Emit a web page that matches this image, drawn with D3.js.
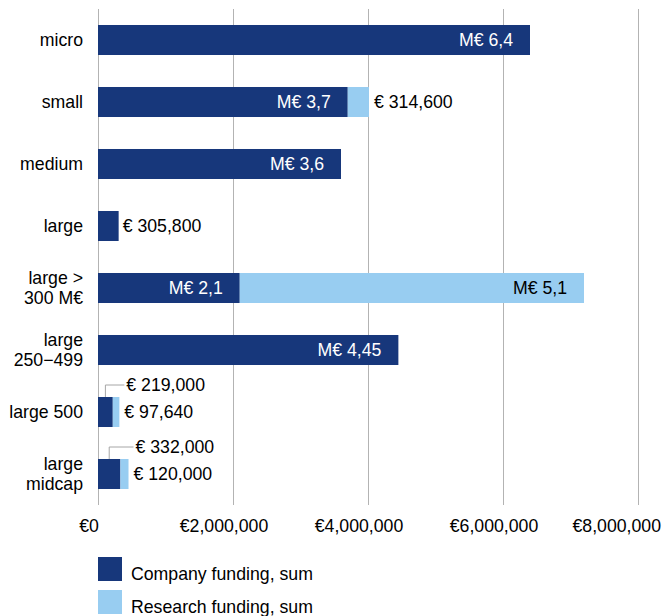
<!DOCTYPE html>
<html>
<head>
<meta charset="utf-8">
<script src="https://cdn.jsdelivr.net/npm/d3@7"></script>
<style>
body { margin: 0; background: #fff; }
text { font-family: "Liberation Sans", Arial, sans-serif; }
</style>
</head>
<body>
<div id="chartArea"></div>
<script>
// data
const categories = ["micro", "small", "medium", "large", "large > 300 M€", "large 250−499", "large 500", "large midcap"];
const categoryLines = [["micro"], ["small"], ["medium"], ["large"], ["large >", "300 M€"], ["large", "250−499"], ["large 500"], ["large", "midcap"]];
const companyFunding = [6400000, 3700000, 3600000, 305800, 2100000, 4450000, 219000, 332000];
const researchFunding = [0, 314600, 0, 0, 5100000, 0, 97640, 120000];
const companyLabels = ["M€ 6,4", "M€ 3,7", "M€ 3,6", "€ 305,800", "M€ 2,1", "M€ 4,45", "€ 219,000", "€ 332,000"];
const researchLabels = ["", "€ 314,600", "", "", "M€ 5,1", "", "€ 97,640", "€ 120,000"];
const xTicks = [0, 2000000, 4000000, 6000000, 8000000];
const seriesNames = ["Company funding, sum", "Research funding, sum"];

const W = 662, H = 616;
const colors = ["#17377b", "#98cdf1"];
const fs = 17.7;

const svg = d3.select("#chartArea").append("svg")
  .attr("width", W).attr("height", H);

const x = d3.scaleLinear().domain([0, 8000000]).range([98, 638]);
const y = d3.scaleBand().domain(categories).range([9, 505])
  .paddingInner(0.516).paddingOuter(0.258);

// gridlines
svg.append("g").selectAll("line").data(xTicks).join("line")
  .attr("x1", d => Math.round(x(d)) + 0.5).attr("x2", d => Math.round(x(d)) + 0.5)
  .attr("y1", 9).attr("y2", 505)
  .attr("stroke", "#b3b3b3").attr("stroke-width", 1);

// axis labels (shifted a bit left like the original, last one kept inside)
svg.append("g").selectAll("text").data(xTicks).join("text")
  .attr("y", 532)
  .attr("text-anchor", "middle").attr("font-size", fs).attr("fill", "#000")
  .text(d => "€" + d3.format(",")(d))
  .attr("x", function (d) {
    const w = this.getComputedTextLength();
    return Math.min(x(d) - 9, W - 1 - w / 2);
  });

// category labels
const cat = svg.append("g").selectAll("text").data(categories).join("text")
  .attr("text-anchor", "end").attr("font-size", fs).attr("fill", "#000");
cat.each(function (d, i) {
  const c = y(d) + y.bandwidth() / 2;
  const lines = categoryLines[i];
  const t = d3.select(this);
  lines.forEach((ln, k) => {
    t.append("tspan").attr("x", 83)
      .attr("y", c + (k - (lines.length - 1) / 2) * 20.5 + 6)
      .text(ln);
  });
});

// stacked bars
const rows = categories.map((c, i) => ({ cat: c, i, company: companyFunding[i], research: researchFunding[i] }));
const stacked = d3.stack().keys(["company", "research"])(rows);

const layers = svg.append("g").selectAll("g").data(stacked).join("g")
  .attr("fill", (d, i) => colors[i]);
layers.selectAll("rect").data(d => d).join("rect")
  .attr("x", d => x(d[0]))
  .attr("y", d => y(d.data.cat))
  .attr("width", d => x(d[1]) - x(d[0]))
  .attr("height", y.bandwidth());

// value labels
const lab = svg.append("g").attr("font-size", fs);
rows.forEach(r => {
  const c = y(r.cat) + y.bandwidth() / 2;
  const x0 = x(0), x1 = x(r.company), x2 = x(r.company + r.research);
  const inside = x1 - x0 > 80;
  if (inside) {
    lab.append("text").attr("x", x1 - 17).attr("y", c + 6)
      .attr("text-anchor", "end").attr("fill", "#fff").text(companyLabels[r.i]);
  } else if (r.research > 0) {
    // leader line to label above the bar
    const mx = (x0 + x1) / 2;
    const ly = c - 27;
    lab.append("path")
      .attr("d", `M${mx},${y(r.cat)} V${ly} H${x2 + 5}`)
      .attr("fill", "none").attr("stroke", "#a6a6a6").attr("stroke-width", 1);
    lab.append("text").attr("x", x2 + 7).attr("y", ly + 6)
      .attr("fill", "#000").text(companyLabels[r.i]);
  } else {
    lab.append("text").attr("x", x1 + 4).attr("y", c + 6)
      .attr("fill", "#000").text(companyLabels[r.i]);
  }
  if (r.research > 0) {
    if (x2 - x1 > 80) {
      lab.append("text").attr("x", x2 - 17).attr("y", c + 6)
        .attr("text-anchor", "end").attr("fill", "#000").text(researchLabels[r.i]);
    } else {
      lab.append("text").attr("x", x2 + 5).attr("y", c + 6)
        .attr("fill", "#000").text(researchLabels[r.i]);
    }
  }
});

// legend
const leg = svg.append("g").selectAll("g").data(seriesNames).join("g")
  .attr("transform", (d, i) => `translate(98,${557 + i * 33})`);
leg.append("rect").attr("width", 24).attr("height", 24)
  .attr("fill", (d, i) => colors[i]);
leg.append("text").attr("x", 33).attr("y", 23)
  .attr("font-size", fs).attr("fill", "#000").text(d => d);
</script>
</body>
</html>
